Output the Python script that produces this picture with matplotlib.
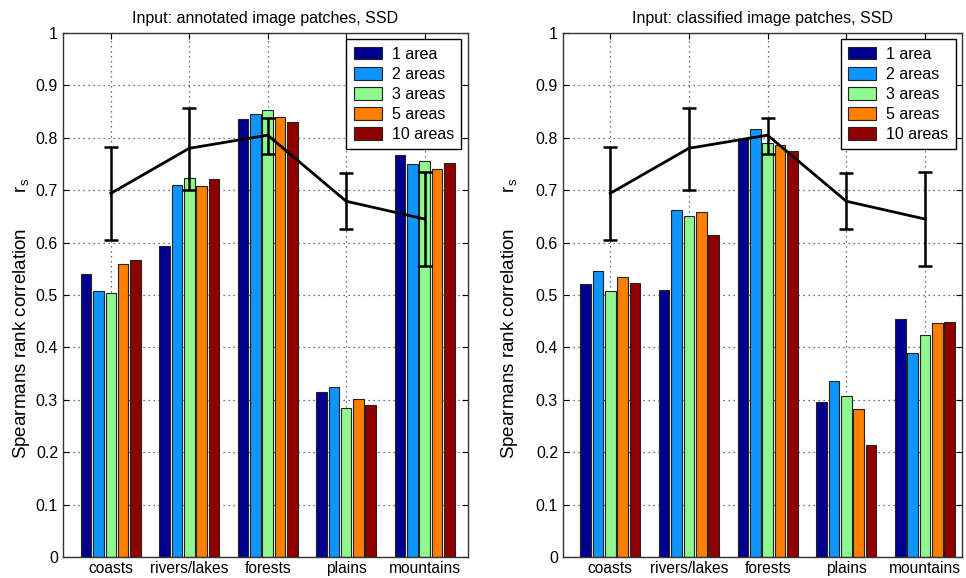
import numpy as np
import matplotlib
matplotlib.use("Agg")
import matplotlib.pyplot as plt

plt.rcParams["font.family"] = ["Liberation Sans", "DejaVu Sans"]

categories = ["coasts", "rivers/lakes", "forests", "plains", "mountains"]
series = ["1 area", "2 areas", "3 areas", "5 areas", "10 areas"]
colors = ["#00008f", "#0f95ff", "#8ff98f", "#ff7f00", "#8f0000"]

# rows = categories, cols = series
annotated = [
    [0.540, 0.507, 0.503, 0.560, 0.566],
    [0.593, 0.710, 0.723, 0.708, 0.721],
    [0.835, 0.845, 0.854, 0.839, 0.830],
    [0.315, 0.324, 0.284, 0.302, 0.290],
    [0.767, 0.750, 0.756, 0.740, 0.751],
]
classified = [
    [0.521, 0.545, 0.507, 0.534, 0.523],
    [0.510, 0.663, 0.651, 0.658, 0.614],
    [0.797, 0.816, 0.791, 0.786, 0.775],
    [0.296, 0.336, 0.308, 0.283, 0.214],
    [0.454, 0.389, 0.424, 0.446, 0.448],
]
# reference line (mean) with error bars, same in both panels
ref_mean = [0.694, 0.780, 0.805, 0.679, 0.645]
ref_lo = [0.605, 0.701, 0.770, 0.626, 0.556]
ref_hi = [0.783, 0.857, 0.837, 0.732, 0.734]

titles = ["Input: annotated image patches, SSD", "Input: classified image patches, SSD"]


def draw(ax, data, title, xlim, label_x):
    data = np.array(data)
    x = np.arange(1, len(categories) + 1)
    step = 0.157
    for j, name in enumerate(series):
        off = (j - 2) * step
        ax.bar(x + off, data[:, j], width=0.135, color=colors[j],
               edgecolor="#222222", linewidth=0.8, label=name, zorder=2)
    m = np.array(ref_mean)
    yerr = [m - np.array(ref_lo), np.array(ref_hi) - m]
    ax.errorbar(x, m, yerr=yerr, color="black", lw=2, elinewidth=1.8,
                capsize=5, capthick=1.8, zorder=3)
    ax.set_xlim(*xlim)
    ax.set_ylim(0, 1)
    ax.set_xticks(x)
    ax.set_xticklabels(categories, fontsize=11.2)
    ax.set_yticks(np.arange(0, 1.01, 0.1))
    ax.set_yticklabels(["0"] + ["%.1f" % v for v in np.arange(0.1, 0.95, 0.1)] + ["1"],
                       fontsize=11.5)
    ax.tick_params(direction="in", top=True, right=True, length=4, width=0.8)
    ax.tick_params(axis="x", pad=3)
    ax.tick_params(axis="y", pad=3.5)
    ax.grid(True, ls=(0, (1, 3)), color="#444444", lw=0.9)
    ax.set_axisbelow(True)
    for s in ax.spines.values():
        s.set_linewidth(1.0)
        s.set_color("#333333")
    ax.set_title(title, fontsize=11.5, pad=7)
    ax.set_ylabel("Spearmans rank correlation       $\\mathregular{r_s}$", fontsize=13.5)
    ax.yaxis.set_label_coords(label_x, 0.456)
    leg = ax.legend(loc="upper right", fontsize=11.5, fancybox=False,
                    edgecolor="black", framealpha=1, borderaxespad=0.4,
                    handlelength=1.75, handleheight=0.85, labelspacing=0.32,
                    borderpad=0.45, handletextpad=0.65)
    leg.get_frame().set_linewidth(1.0)


def main():
    fig = plt.figure(figsize=(9.66, 5.78), dpi=100)
    ax1 = fig.add_axes([0.0652, 0.0363, 0.419, 0.9066])
    ax2 = fig.add_axes([0.5828, 0.0363, 0.413, 0.9066])
    draw(ax1, annotated, titles[0], (0.39, 5.55), -0.077)
    draw(ax2, classified, titles[1], (0.4, 5.47), -0.108)
    fig.savefig("out.png", dpi=100)
    plt.close(fig)


if __name__ == "__main__":
    main()
